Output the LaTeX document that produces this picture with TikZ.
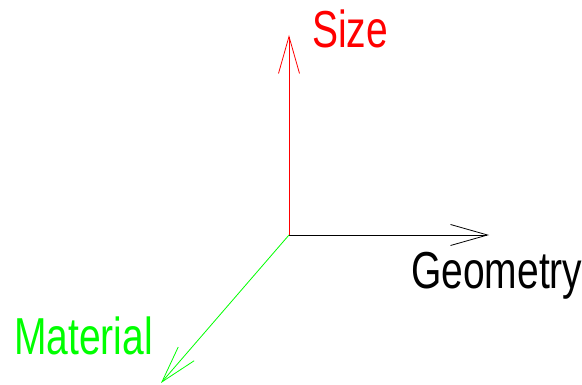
\documentclass[tikz,border=0pt]{standalone}
\usepackage{fontspec}
\setmainfont[FakeStretch=0.75]{Liberation Sans}
\usetikzlibrary{arrows.meta}
\definecolor{axsize}{RGB}{255,0,0}
\definecolor{axmat}{RGB}{0,255,0}
\definecolor{axgeo}{RGB}{0,0,0}
\tikzset{
  axis/.style={-{Straight Barb[length=37pt,width=21pt,line width=0.8pt]}, line width=0.8pt},
  axlbl/.style={anchor=base west, inner sep=0pt, font=\fontsize{52}{52}\selectfont},
}

\begin{document}
\begin{tikzpicture}[x=1pt, y=-1pt]
  \useasboundingbox (0,0) rectangle (582,385);
  % ---- axes ----
  \coordinate (orig) at (289,235);
  \coordinate (sizeend) at (289,35);
  \coordinate (geoend) at (489,235);
  \coordinate (matend) at (161,383);
  \draw[axis, draw=axsize] (orig) -- (sizeend);
  \draw[axis, draw=axgeo] (orig) -- (geoend);
  \draw[axis, draw=axmat] (orig) -- (matend);
  % ---- labels ----
  \node[axlbl, text=axsize] (sizelbl) at (312,48) {Size};
  \node[axlbl, text=axgeo] (geolbl) at (411,289) {Geometry};
  \node[axlbl, text=axmat] (matlbl) at (14,355) {Material};
\end{tikzpicture}
\end{document}
